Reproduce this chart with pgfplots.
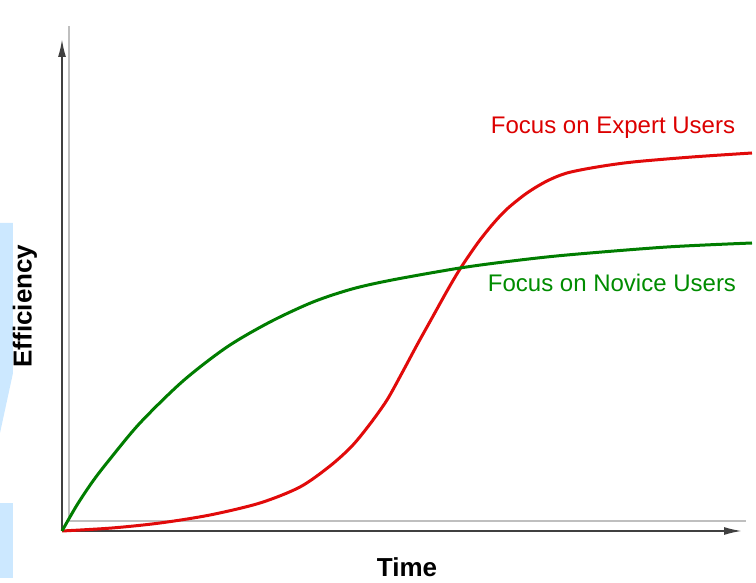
\documentclass[border=0pt]{standalone}
\usepackage{pgfplots}
\pgfplotsset{compat=1.18}
\usetikzlibrary{arrows.meta}
\usepackage{fontspec}
\setmainfont{Liberation Sans}
\definecolor{redcurve}{RGB}{225,10,10}
\definecolor{greencurve}{RGB}{0,125,0}
\definecolor{redtext}{RGB}{220,0,0}
\definecolor{greentext}{RGB}{0,140,0}
\definecolor{deco}{RGB}{204,232,255}
\begin{document}
\begin{tikzpicture}
\path[use as bounding box] (-62pt,-52pt) rectangle (694pt,531pt);
\fill[deco] (-62pt,308pt) -- (-49pt,308pt) -- (-49pt,158pt) -- (-62pt,98pt) -- cycle;
\fill[deco] (-62pt,28pt) rectangle (-49pt,-47pt);
\begin{axis}[
  at={(0,0)}, anchor=origin,
  x=1pt, y=1pt,
  xmin=0, xmax=680, ymin=0, ymax=492,
  axis lines=left,
  axis line style={black!75, line width=1.8pt, -{Latex[length=18pt,width=8pt]}},
  xtick=\empty, ytick=\empty,
  clip=false,
]
\draw[black!25, line width=1.2pt] (axis cs:7,10) -- (axis cs:7,505);
\draw[black!25, line width=1.2pt] (axis cs:7,10) -- (axis cs:684,10);
\addplot[redcurve, line width=3pt, smooth, tension=0.5] coordinates {
(0,0) (50,3) (98,8) (148,16) (198,28) (238,44) (268,65) (290,85) (308,107)
(325,131) (340,158) (355,186) (370,213) (385,240) (398,262) (415,287) (430,306)
(445,322) (465,338) (485,350) (505,358) (535,364) (571,369) (630,374) (690,378)
};
\addplot[greencurve, line width=3pt, smooth, tension=0.5] coordinates {
(0,0) (15,26) (31,50) (48,72) (78,108) (121,150) (165,184) (208,209) (251,229)
(290,242) (330,251) (398,263) (450,270) (505,276) (605,284) (690,288)
};
\node[text=redtext, font=\fontsize{24}{26}\selectfont] at (axis cs:551,403) {Focus on Expert Users};
\node[text=greentext, font=\fontsize{24}{26}\selectfont] at (axis cs:550,248) {Focus on Novice Users};
\node[rotate=90, font=\bfseries\fontsize{26}{28}\selectfont] at (axis cs:-37,225) {Efficiency};
\node[font=\bfseries\fontsize{26}{28}\selectfont] at (axis cs:345,-36) {Time};
\end{axis}
\end{tikzpicture}
\end{document}
